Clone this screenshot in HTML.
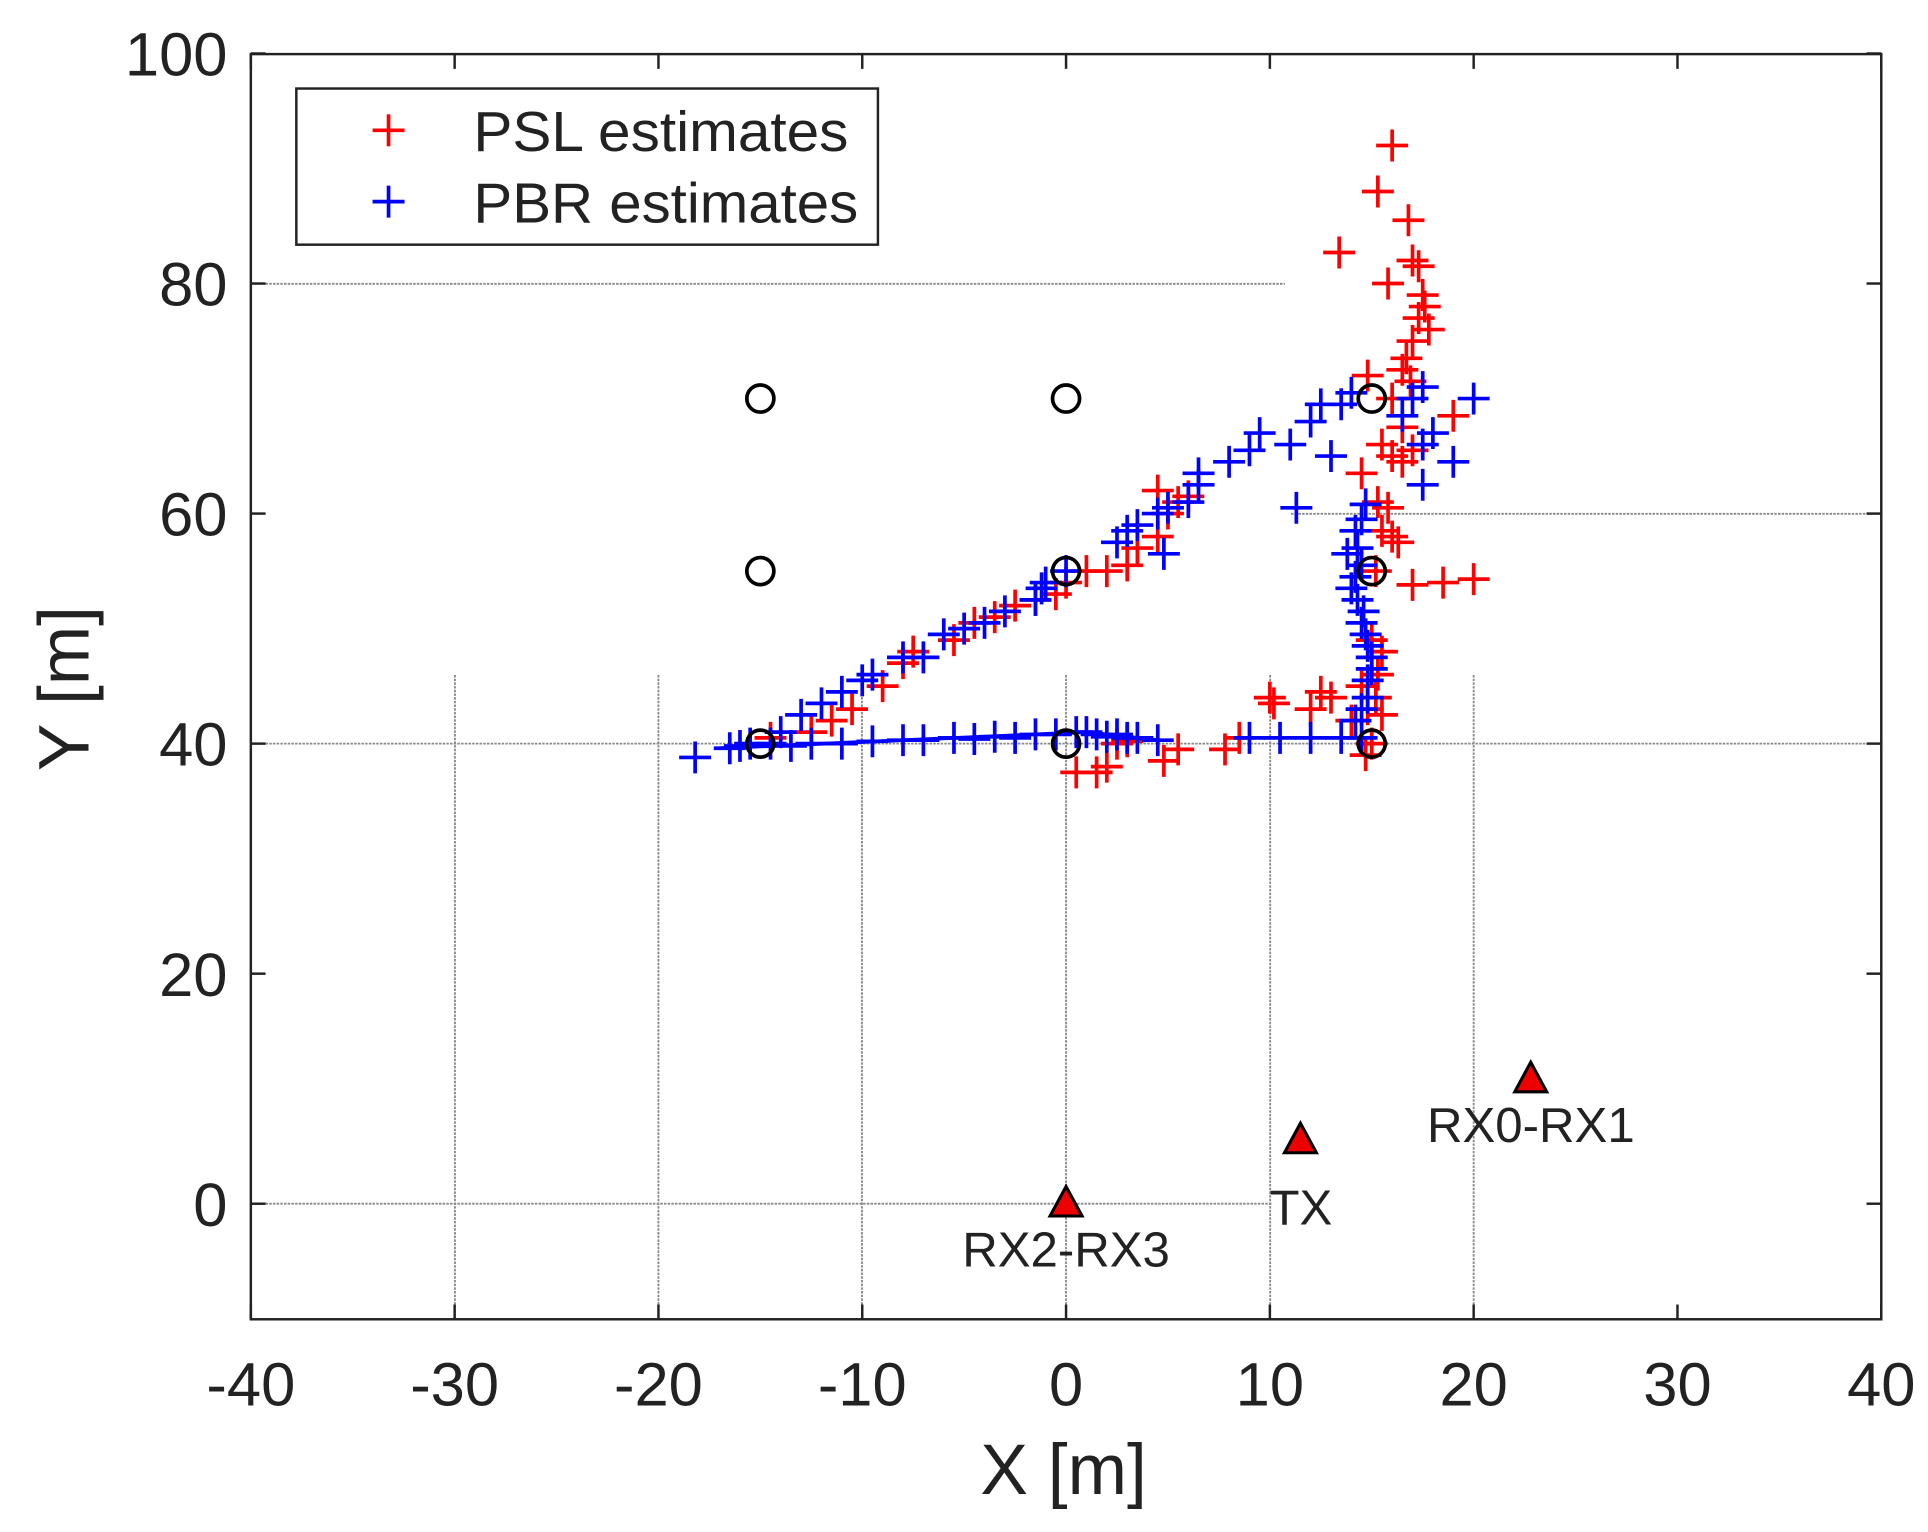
<!DOCTYPE html>
<html><head><meta charset="utf-8"><style>
html,body{margin:0;padding:0;background:#fff;}
svg{display:block;}
text{font-family:"Liberation Sans",sans-serif;fill:#222;}
</style></head><body>
<svg id="s" width="1928" height="1532" viewBox="0 0 1568 1246" preserveAspectRatio="none" xmlns="http://www.w3.org/2000/svg">
<rect width="1568" height="1246" fill="#fff"/>
<g stroke="#888" stroke-width="1.5" stroke-dasharray="2,1">
<line x1="204" y1="230.8" x2="1045" y2="230.8"/>
<line x1="1050" y1="417.9" x2="1530" y2="417.9"/>
<line x1="204" y1="604.8" x2="1530" y2="604.8"/>
<line x1="204" y1="979" x2="1035" y2="979"/>
<line x1="370" y1="549" x2="370" y2="1073"/>
<line x1="535.5" y1="549" x2="535.5" y2="1073"/>
<line x1="701" y1="549" x2="701" y2="1073"/>
<line x1="867" y1="549" x2="867" y2="1073"/>
<line x1="1033" y1="549" x2="1033" y2="1073"/>
<line x1="1198.5" y1="549" x2="1198.5" y2="1073"/>
</g>
<g id="ax" stroke="#222" stroke-width="2" fill="none"></g>
<g id="data"></g>
<rect x="241" y="72" width="473" height="127" fill="#fff" stroke="#222" stroke-width="2"/>
<g stroke-width="3"><line x1="303" y1="106" x2="329" y2="106" stroke="red"/><line x1="316" y1="93" x2="316" y2="119" stroke="red"/>
<line x1="303" y1="164" x2="329" y2="164" stroke="blue"/><line x1="316" y1="151" x2="316" y2="177" stroke="blue"/></g>
<text x="385" y="123" font-size="46" textLength="305" lengthAdjust="spacingAndGlyphs">PSL estimates</text>
<text x="385" y="181" font-size="46" textLength="313" lengthAdjust="spacingAndGlyphs">PBR estimates</text>
<g font-size="50" text-anchor="end" id="yl"></g>
<g font-size="50" text-anchor="middle" id="xl"></g>
<text x="865" y="1215" font-size="58" text-anchor="middle">X [m]</text>
<text transform="translate(72,560) rotate(-90)" font-size="58" text-anchor="middle">Y [m]</text>
<g font-size="40" text-anchor="middle">
<text x="867" y="1030">RX2-RX3</text>
<text x="1058" y="996">TX</text>
<text x="1245" y="929">RX0-RX1</text>
</g>
</svg>
<script>
var NS="http://www.w3.org/2000/svg";
function X(x){return 867+16.575*x;} function Y(y){return 979-9.355*y;}
function el(p,t,a,txt){var e=document.createElementNS(NS,t);for(var k in a)e.setAttribute(k,a[k]);if(txt!=null)e.textContent=txt;p.appendChild(e);return e;}
var ax=document.getElementById('ax');
el(ax,'rect',{x:204,y:44,width:1326,height:1029});
var yl=document.getElementById('yl'),xl=document.getElementById('xl');
[0,20,40,60,80,100].forEach(function(v){var y=Y(v);el(ax,'line',{x1:204,y1:y,x2:216,y2:y});el(ax,'line',{x1:1530,y1:y,x2:1518,y2:y});el(yl,'text',{x:185,y:y+18},String(v));});
for(var v=-40;v<=40;v+=10){var x=X(v);el(ax,'line',{x1:x,y1:1073,x2:x,y2:1061});el(ax,'line',{x1:x,y1:44,x2:x,y2:56});el(xl,'text',{x:x,y:1143},String(v));}
var d=document.getElementById('data');
function plus(pts,c){for(var i=0;i<pts.length;i+=2){var x=X(pts[i]),y=Y(pts[i+1]);el(d,'path',{d:'M'+(x-13)+' '+y+'H'+(x+13)+'M'+x+' '+(y-13)+'V'+(y+13),stroke:c,'stroke-width':3,fill:'none'});}}
var blue=[-18.2,38.8,-16.5,39.6,-16,39.8,-15.5,40,-14.5,40,-13.5,39.8,-12.5,40,-11,40,-9.5,40.2,-8,40.3,-7,40.3,-5.5,40.5,-4.5,40.4,-3.5,40.6,-2.5,40.5,-1.5,40.8,-0.5,40.8,0.5,41,1,41,1.5,40.8,2,40.6,2.5,40.8,3,40.5,3.5,40.5,4.5,40.3,9,40.5,10.5,40.5,12,40.5,13.5,40.5,14.5,40.5,
-14,41,-13,42.5,-12,43.5,-11,44.5,-10,45.5,-9.5,46,-8,47.5,-7,47.5,-6,49.5,-5,50,-4,50.5,-3,51.5,-1.5,52.5,-1.2,53.5,-1,54,0,55,2.5,57.5,3,58.5,3.5,59,4.5,60,5,60.5,4.8,56.5,6,61,6.5,62.5,6.5,63.5,8,64.5,9,65.5,9.5,67,11,66,12,68,12.5,69.5,13,65,14,70.5,16.5,68.5,17,70,17.5,71,17.5,66,18,67,20,70,19,64.5,17.5,62.5,11.3,60.5,13.5,69.5,
14.2,42,14.5,43,14.8,44,14.8,45.5,15,46.5,15,47.5,14.8,48.5,14.7,49.5,14.5,50.5,14.6,51.5,14.3,52.5,14,53.5,14.2,54.5,14.5,55.5,14.3,57,14.2,58.5,14.5,59.5,14.7,60.8,13.8,56.5];
var red=[16,92,15.3,88,16.8,85.5,13.4,82.7,17,82,17.3,81.5,15.8,80,17.5,79,17.6,78,17.3,77,17.8,76,17,75,16.7,73.5,16.5,72.5,16.9,71.5,14.8,72,16,70,19,68.5,16.5,67.5,15.5,66,16,65,16.5,64.5,17,65.5,14.5,63.5,15.3,61,15.8,60.5,15.5,58.5,16,58,16.3,57.5,15.2,55,17,53.8,18.5,54,20,54.3,15,49,15.5,48,15.3,46,15.2,44,14.8,43,15.5,42.5,14,42,13,44,12,43,12.5,44.5,10,44,10.2,43.5,14.5,45,15,40,14.7,39,7.8,39.5,8.5,40.5,4.8,38.5,5.5,39.5,2,38,1.5,37.5,0.5,37.5,3,40.2,2.5,40,
-14.5,40.5,-12.5,41,-11.5,42,-10.5,43,-9,45,-8,47,-7.5,48,-5.5,49,-4.5,50.5,-3.5,51,-2.5,52,-1.5,52.5,-0.5,53,0,54,1,55,2,55,3,55.5,3.5,57,4.5,62,5,60,5.5,61,6,61.5,4.5,58];
plus(red,'red');
el(d,'polyline',{points:[X(-17),Y(39.6),X(-8),Y(40.3),X(1),Y(41),X(4.5),Y(40.3)].join(' '),stroke:'blue','stroke-width':3,fill:'none'});
plus(blue,'blue');
[[-15,70],[0,70],[15,70],[-15,55],[0,55],[15,55],[-15,40],[0,40],[15,40]].forEach(function(p){el(d,'circle',{cx:X(p[0]),cy:Y(p[1]),r:11,fill:'none',stroke:'#000','stroke-width':3});});
[[0,0],[11.5,5.5],[22.8,10.8]].forEach(function(p){var x=X(p[0]),y=Y(p[1]);el(d,'path',{d:'M'+x+' '+(y-14)+'L'+(x+13)+' '+(y+10)+'L'+(x-13)+' '+(y+10)+'Z',fill:'#e00',stroke:'#000','stroke-width':2.5});});
</script>
</body></html>
